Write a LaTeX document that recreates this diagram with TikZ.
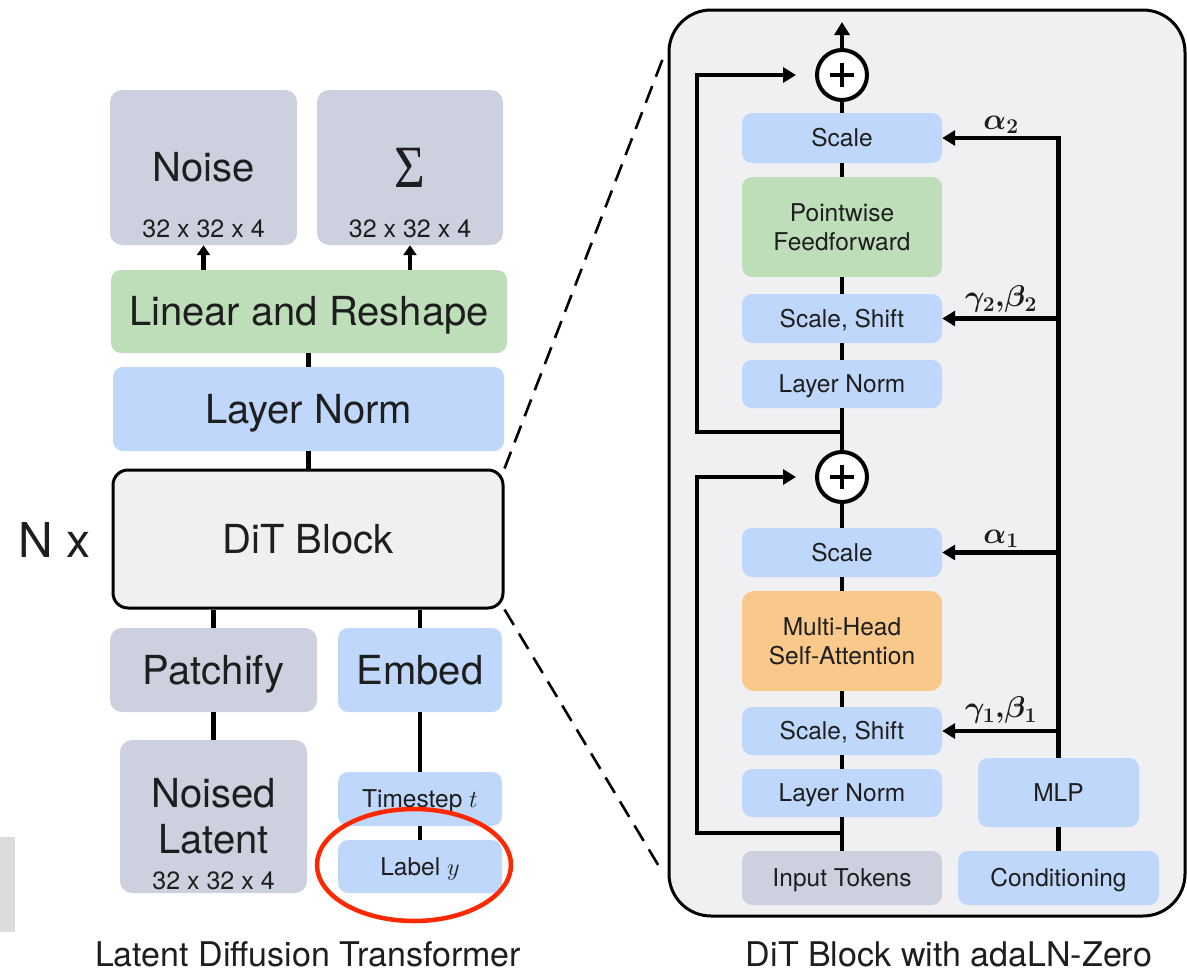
\RequirePackage{fix-cm}
\documentclass[tikz,border=0pt]{standalone}
\usepackage[no-math]{fontspec}
\setmainfont{TeX Gyre Heros}
\newfontfamily\sigmafont{Liberation Serif}
\usepackage{graphicx}
\usetikzlibrary{arrows.meta}

\definecolor{boxblue}{RGB}{190,215,250}
\definecolor{boxgrey}{RGB}{205,209,223}
\definecolor{boxgreen}{RGB}{189,222,185}
\definecolor{boxorange}{RGB}{249,201,140}
\definecolor{panelbg}{RGB}{240,240,243}
\definecolor{textc}{RGB}{30,30,30}
\definecolor{markred}{RGB}{255,40,0}
\definecolor{stripgrey}{RGB}{220,220,220}

\tikzset{
  base/.style={inner sep=0pt, text=textc},
  % single-line labels: node centre sits at the middle of the capital height
  bigcap/.style={font=\fontsize{40}{48}\selectfont, text height=28.8pt, text depth=0pt},
  smallcap/.style={font=\fontsize{24.5}{29}\selectfont, text height=17.6pt, text depth=0pt},
  dimcap/.style={font=\fontsize{25}{30}\selectfont, text height=18pt, text depth=0pt},
  nxcap/.style={font=\fontsize{48}{56}\selectfont, text height=34.5pt, text depth=0pt},
  titlecap/.style={font=\fontsize{34}{40}\selectfont, text height=24.5pt, text depth=0pt},
  smallfont/.style={font=\fontsize{24.5}{29}\selectfont},
  mathlbl/.style={base, anchor=south, font=\fontsize{30}{34}\selectfont\boldmath},
  greybox/.style={base, fill=boxgrey, rounded corners=12pt},
  bluebox/.style={base, fill=boxblue, rounded corners=10pt},
  greenbox/.style={base, fill=boxgreen, rounded corners=10pt},
  orangebox/.style={base, fill=boxorange, rounded corners=12pt},
  ditbox/.style={base, fill=panelbg, draw=black, line width=3pt, rounded corners=15pt},
  panel/.style={fill=panelbg, draw=black, line width=3pt, rounded corners=42pt},
  sumnode/.style={circle, draw=black, fill=white, line width=4pt, minimum size=50pt, inner sep=0pt},
  conn/.style={draw=black, line width=4.5pt},
  arrbig/.style={conn, -{Triangle[length=13pt,width=15pt]}},
  arrsmall/.style={conn, -{Triangle[length=10pt,width=13pt]}},
  zoomline/.style={draw=black, line width=2.6pt, dash pattern=on 18pt off 10pt},
}

\begin{document}
\begin{tikzpicture}[x=1pt, y=-1pt]
\useasboundingbox (0,0) rectangle (1187,972);

% ---------- block panel (background) ----------
\draw[panel] (669,10) rectangle (1185,916);

% ---------- left column ----------
\node[greybox, bigcap, minimum width=187pt, minimum height=155pt] (noise) at (203.5,167.5) {Noise};
\node[base, dimcap] (noisedim) at (203.5,228) {32 x 32 x 4};
\node[greybox, minimum width=186pt, minimum height=155pt, font=\fontsize{60}{66}\selectfont\sigmafont] (sigma) at (410,167.5) {\scalebox{0.88}[1]{Σ}};
\node[base, dimcap] (sigmadim) at (410,228) {32 x 32 x 4};

\node[greenbox, bigcap, minimum width=396pt, minimum height=83pt] (lr) at (309,311.5) {Linear and Reshape};
\node[bluebox, bigcap, minimum width=391pt, minimum height=84pt] (ln) at (308.5,409) {Layer Norm};
\node[ditbox, bigcap, minimum width=390pt, minimum height=138pt] (dit) at (308,539) {DiT Block};
\node[base, nxcap] (nx) at (55,540) {N x};

\node[greybox, bigcap, minimum width=207pt, minimum height=84pt] (patchify) at (213.5,670) {Patchify};
\node[bluebox, bigcap, minimum width=164pt, minimum height=84pt] (embed) at (420,670) {Embed};

\node[greybox, minimum width=187pt, minimum height=153pt] (noised) at (213.5,816.5) {};
\node[base, bigcap] (noisedt1) at (213.5,793) {Noised};
\node[base, bigcap] (noisedt2) at (213.5,839) {Latent};
\node[base, dimcap] (noiseddim) at (213.5,880) {32 x 32 x 4};

\node[bluebox, smallcap, minimum width=164pt, minimum height=54pt] (timestep) at (420,799) {Timestep $t$};
\node[bluebox, smallcap, minimum width=164pt, minimum height=53pt] (labely) at (420,866.5) {Label $y$};

% left column connectors
\draw[arrsmall] (noise.south |- lr.north) -- (noise.south);
\draw[arrsmall] (sigma.south |- lr.north) -- (sigma.south);
\draw[conn] (ln.north) -- (ln.north |- lr.south);
\draw[conn] (ln.south) -- (ln.south |- dit.north);
\draw[conn] (patchify.north) -- (patchify.north |- dit.south);
\draw[conn] (embed.north) -- (embed.north |- dit.south);
\draw[conn] (noised.north) -- (noised.north |- patchify.south);
\draw[conn] (timestep.north) -- (timestep.north |- embed.south);
\draw[conn] (labely.north) -- (labely.north |- timestep.south);

% highlight around the class label input
\draw[markred, line width=4.5pt] (414,865) ellipse [x radius=97pt, y radius=56pt];
\fill[stripgrey] (0,837) rectangle (15,932);

% zoom lines from the block to its detail panel
\coordinate (zt) at (665,53);
\coordinate (zb) at (663,873);
\draw[zoomline] (dit.north east) -- (zt);
\draw[zoomline] (dit.south east) -- (zb);

% ---------- DiT block detail ----------
\node[sumnode] (plus2) at (842,75) {};
\node[bluebox, smallcap, minimum width=200pt, minimum height=50pt] (scale2) at (842,138) {Scale};
\node[greenbox, smallfont, align=center, minimum width=200pt, minimum height=100pt] (ff) at (842,227) {Pointwise\\Feedforward};
\node[bluebox, smallcap, minimum width=200pt, minimum height=49pt] (ss2) at (842,318.5) {Scale, Shift};
\node[bluebox, smallcap, minimum width=200pt, minimum height=48pt] (ln2) at (842,384) {Layer Norm};
\node[sumnode] (plus1) at (842,477) {};
\node[bluebox, smallcap, minimum width=200pt, minimum height=49pt] (scale1) at (842,552.5) {Scale};
\node[orangebox, smallfont, align=center, minimum width=200pt, minimum height=100pt] (mhsa) at (842,641) {Multi-Head\\Self-Attention};
\node[bluebox, smallcap, minimum width=200pt, minimum height=48pt] (ss1) at (842,731) {Scale, Shift};
\node[bluebox, smallcap, minimum width=200pt, minimum height=48pt] (ln1) at (842,793) {Layer Norm};
\node[greybox, smallcap, rounded corners=10pt, minimum width=200pt, minimum height=54pt] (input) at (842,878) {Input Tokens};
\node[bluebox, smallcap, minimum width=161pt, minimum height=69pt] (mlp) at (1058.5,792.5) {MLP};
\node[bluebox, smallcap, minimum width=201pt, minimum height=54pt] (cond) at (1058.5,878) {Conditioning};

% plus signs
\foreach \p in {plus1, plus2} {
  \draw[line width=4pt] ([xshift=-12pt]\p.center) -- ([xshift=12pt]\p.center);
  \draw[line width=4pt] ([yshift=-12pt]\p.center) -- ([yshift=12pt]\p.center);
}

% main stream
\coordinate (topout) at (842,22);
\coordinate (j1) at (842,833);
\coordinate (j2) at (842,432);
\coordinate (skipx) at (697,0);
\draw[conn] (input.north) -- (ln1.south);
\draw[conn] (ln1.north) -- (ss1.south);
\draw[conn] (ss1.north) -- (mhsa.south);
\draw[conn] (mhsa.north) -- (scale1.south);
\draw[conn] (scale1.north) -- (plus1.south);
\draw[conn] (plus1.north) -- (ln2.south);
\draw[conn] (ln2.north) -- (ss2.south);
\draw[conn] (ss2.north) -- (ff.south);
\draw[conn] (ff.north) -- (scale2.south);
\draw[conn] (scale2.north) -- (plus2.south);
\draw[arrbig] (plus2.north) -- (topout);

% residual connections
\draw[arrbig] (j1) -- (j1 -| skipx) |- ([xshift=-19pt]plus1.west);
\draw[arrbig] (j2) -- (j2 -| skipx) |- ([xshift=-19pt]plus2.west);

% conditioning path
\draw[conn] (cond.north) -- (mlp.south);
\draw[arrbig] (mlp.north) -- (mlp.north |- scale2.east) -- (scale2.east);
\draw[arrbig] (mlp.north |- ss2.east) -- (ss2.east);
\draw[arrbig] (mlp.north |- scale1.east) -- (scale1.east);
\draw[arrbig] (mlp.north |- ss1.east) -- (ss1.east);

\node[mathlbl] (a2) at (1001,134) {$\alpha_2$};
\node[mathlbl] (gb2) at (1001,313) {$\gamma_2{,}\beta_2$};
\node[mathlbl] (a1) at (1001,548) {$\alpha_1$};
\node[mathlbl] (gb1) at (1001,724) {$\gamma_1{,}\beta_1$};

% captions
\node[base, titlecap] (cap1) at (308,954) {Latent Diffusion Transformer};
\node[base, titlecap] (cap2) at (949,954) {DiT Block with adaLN-Zero};
\end{tikzpicture}
\end{document}
